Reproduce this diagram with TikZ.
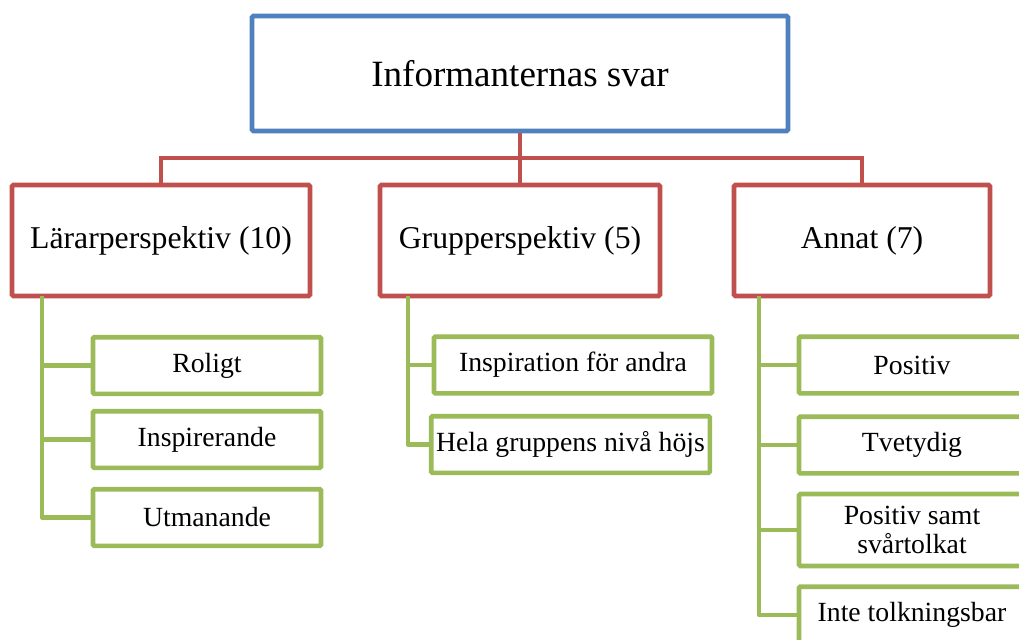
\documentclass[tikz,border=0pt]{standalone}
\usepackage{fontspec}
\setmainfont{Liberation Serif}
\definecolor{boxblue}{HTML}{4F81BD}
\definecolor{boxred}{HTML}{C0504D}
\definecolor{boxgreen}{HTML}{9BBB59}
\begin{document}
\begin{tikzpicture}[x=0.75pt,y=-0.75pt,
  base/.style={draw,line width=3.5pt,rounded corners=1pt,fill=white,inner sep=0pt,align=center,rectangle},
  topbox/.style={base,draw=boxblue,minimum width=402pt,minimum height=86.25pt,font=\fontsize{27.8}{32}\selectfont},
  midbox/.style={base,draw=boxred,minimum height=83.25pt,font=\fontsize{23.8}{28}\selectfont},
  leafbox/.style={base,draw=boxgreen,minimum height=42.5pt,font=\fontsize{20.8}{21.5}\selectfont},
  redline/.style={draw=boxred,line width=3.5pt},
  greenline/.style={draw=boxgreen,line width=3.5pt}]
\useasboundingbox (0,0) rectangle (1019,639);
\clip (0,0) rectangle (1019,639);
\coordinate (top) at (520,73.5);
\coordinate (lar) at (161,240.5);
\coordinate (grp) at (520,240.5);
\coordinate (ann) at (862,240.5);
\coordinate (bus) at (520,158);
% nodes
\node[topbox] (t) at (top) {Informanternas svar};
\node[midbox,minimum width=223.5pt] (l) at (lar) {Lärarperspektiv (10)};
\node[midbox,minimum width=210pt] (g) at (grp) {Grupperspektiv (5)};
\node[midbox,minimum width=192pt] (a) at (ann) {Annat (7)};
\draw[redline] (t.south) -- (bus);
\draw[redline] (bus) -| (l.north);
\draw[redline] (bus) -| (a.north);
\draw[redline] (bus) -- (g.north);
% leaves
\node[leafbox,minimum width=171pt] (l1) at (207,365.5) {Roligt};
\node[leafbox,minimum width=171pt] (l2) at (207,439.5) {Inspirerande};
\node[leafbox,minimum width=171pt] (l3) at (207,517.5) {Utmanande};
\node[leafbox,minimum width=208.5pt] (g1) at (573,365) {Inspiration för andra};
\node[leafbox,minimum width=209pt] (g2) at (570.5,444.5) {Hela gruppens nivå höjs};
\node[leafbox,minimum width=169.5pt] (a1) at (912,365) {Positiv};
\node[leafbox,minimum width=169.5pt] (a2) at (912,445) {Tvetydig};
\node[leafbox,minimum width=169.5pt,minimum height=54pt] (a3) at (912,530) {Positiv samt\\svårtolkat};
\node[leafbox,minimum width=169.5pt] (a4) at (912,615) {Inte tolkningsbar};
\coordinate (lv) at (42,296);
\coordinate (gv) at (408,296);
\coordinate (av) at (759,296);
\draw[greenline] (lv) |- (l1.west);
\draw[greenline] (lv) |- (l2.west);
\draw[greenline,line join=round] (lv) |- (l3.west);
\draw[greenline] (gv) |- (g1.west);
\draw[greenline,line join=round] (gv) |- (g2.west);
\draw[greenline] (av) |- (a1.west);
\draw[greenline] (av) |- (a2.west);
\draw[greenline] (av) |- (a3.west);
\draw[greenline,line join=round] (av) |- (a4.west);
\end{tikzpicture}
\end{document}
